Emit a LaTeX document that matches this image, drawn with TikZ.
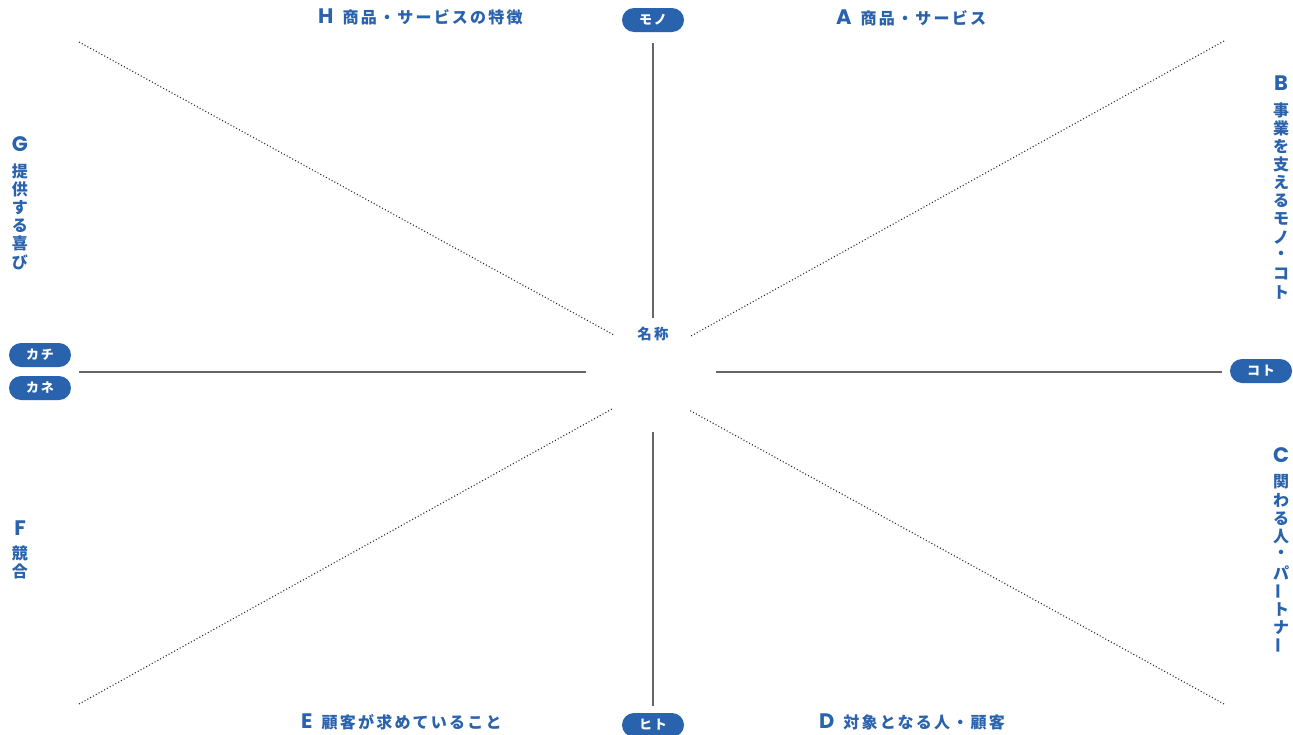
\documentclass[tikz,border=0pt]{standalone}
\usepackage{fontspec}
\usepackage{graphicx}
\setmainfont{Noto Sans CJK JP}
\newfontfamily\jpf{Noto Sans CJK JP}[LetterSpace=14]
\newfontfamily\latf{Poppins}
\definecolor{mblue}{HTML}{2962AD}
\definecolor{lgray}{HTML}{666666}
\begin{document}
\begin{tikzpicture}[x=1pt,y=-1pt,
  axis/.style={draw=lgray,line width=1.1pt},
  dot/.style={draw=black!85,line width=1.1pt,dash pattern=on 1pt off 2.2pt},
  pill/.style={fill=mblue,rounded corners=12pt,minimum width=62pt,minimum height=24pt,inner sep=0pt,
    text=white,font=\jpf\bfseries\fontsize{13}{13}\selectfont},
  hlab/.style={anchor=west,inner sep=0pt,text=mblue},
  vlet/.style={inner sep=0pt,text=mblue,font=\latf\bfseries\fontsize{21}{21}\selectfont},
  vch/.style={inner sep=0pt,text=mblue,font=\jpf\bfseries\fontsize{16}{16}\selectfont},
  ctr/.style={inner sep=0pt,text=mblue,font=\jpf\bfseries\fontsize{14.5}{14.5}\selectfont}]
\useasboundingbox[fill=white] (0,0) rectangle (1293,734);
% center
\node[ctr] (name) at (653,334) {名称};
% axis endpoints
\coordinate (t1) at (653,43); \coordinate (t2) at (653,318);
\coordinate (b1) at (653,432); \coordinate (b2) at (653,706);
\coordinate (l1) at (79,372); \coordinate (l2) at (586,372);
\coordinate (r1) at (716,372); \coordinate (r2) at (1222,372);
\draw[axis] (t1) -- (t2);
\draw[axis] (b1) -- (b2);
\draw[axis] (l1) -- (l2);
\draw[axis] (r1) -- (r2);
\coordinate (d1a) at (79,42); \coordinate (d1b) at (614,335);
\coordinate (d2a) at (1224,41); \coordinate (d2b) at (691,336);
\coordinate (d3a) at (79,704); \coordinate (d3b) at (612,409);
\coordinate (d4a) at (1224,704); \coordinate (d4b) at (689,410);
\draw[dot] (d1a) -- (d1b);
\draw[dot] (d2a) -- (d2b);
\draw[dot] (d3a) -- (d3b);
\draw[dot] (d4a) -- (d4b);
% pills
\node[pill] (mono) at (653,20) {モノ};
\node[pill] (hito) at (653,725) {ヒト};
\node[pill] (kachi) at (40,355) {カチ};
\node[pill] (kane) at (40,388) {カネ};
\node[pill] (koto) at (1261,371) {コト};
% horizontal labels
\node[hlab] (H) at (318,17) {{\latf\bfseries\fontsize{21}{21}\selectfont H}\hspace{9pt}{\jpf\bfseries\fontsize{16}{16}\selectfont 商品・サービスの特徴}};
\node[hlab] (A) at (836,18) {{\latf\bfseries\fontsize{21}{21}\selectfont A}\hspace{9pt}{\jpf\bfseries\fontsize{16}{16}\selectfont 商品・サービス}};
\node[hlab] (E) at (301,722) {{\latf\bfseries\fontsize{21}{21}\selectfont E}\hspace{9pt}{\jpf\bfseries\fontsize{16}{16}\selectfont 顧客が求めていること}};
\node[hlab] (D) at (819,722) {{\latf\bfseries\fontsize{21}{21}\selectfont D}\hspace{9pt}{\jpf\bfseries\fontsize{16}{16}\selectfont 対象となる人・顧客}};
% vertical labels
\node[vlet] (B) at (1281,83) {B};
\foreach \c [count=\i] in {事,業,を,支,え,る,モ,ノ,・,コ,ト}
  \node[vch] (B\i) at (1281,{110+18.2*(\i-1)}) {\c};
\node[vlet] (G) at (20,144) {G};
\foreach \c [count=\i] in {提,供,す,る,喜,び}
  \node[vch] (G\i) at (20,{171+18.2*(\i-1)}) {\c};
\node[vlet] (C) at (1281,455) {C};
\foreach \c [count=\i] in {関,わ,る,人,・,パ,{\rotatebox{90}{ー}},ト,ナ,{\rotatebox{90}{ー}}}
  \node[vch] (C\i) at (1281,{482+18.2*(\i-1)}) {\c};
\node[vlet] (F) at (20,528) {F};
\foreach \c [count=\i] in {競,合}
  \node[vch] (F\i) at (20,{553+18.6*(\i-1)}) {\c};
\end{tikzpicture}
\end{document}
